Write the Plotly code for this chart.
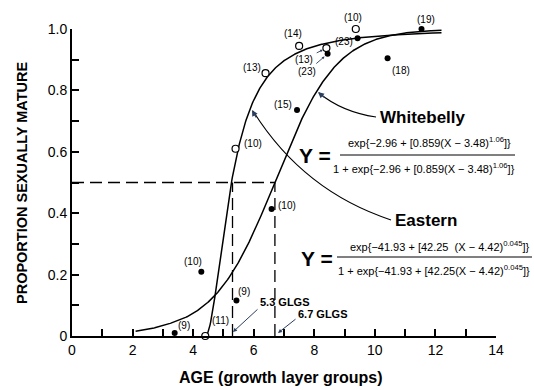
import numpy as np
import plotly.graph_objects as go

# Observed proportions mature by age (growth layer groups), with sample sizes
eastern_age = [4.4, 5.4, 6.39, 7.5, 8.4, 9.37]
eastern_prop = [0.0, 0.61, 0.856, 0.945, 0.938, 1.0]
eastern_n = [11, 10, 13, 14, 13, 10]

whitebelly_age = [3.39, 4.27, 5.43, 6.59, 7.43, 8.44, 9.43, 10.42, 11.54]
whitebelly_prop = [0.01, 0.209, 0.116, 0.414, 0.736, 0.919, 0.97, 0.905, 1.0]
whitebelly_n = [9, 10, 9, 10, 15, 23, 23, 18, 19]

# Fitted logistic parameters [a, b, c, d]:
# Y = exp(a + b(X - c)^d) / (1 + exp(a + b(X - c)^d))
eastern_params = [-41.93, 42.25, 4.42, 0.045]
whitebelly_params = [-2.96, 0.859, 3.48, 1.06]
eastern_span = [4.42, 12.2]
whitebelly_span = [2.1, 12.2]

# Age at 50% maturity (Eastern, Whitebelly)
age_at_half = [5.3, 6.7]

x_ticks = [0, 2, 4, 6, 8, 10, 12, 14]
y_ticks = [0, 0.2, 0.4, 0.6, 0.8, 1.0]
y_tick_text = ["0", "0.2", "0.4", "0.6", "0.8", "1.0"]

# label placement offsets (pixels: right, up); None -> leader arrow (ax, ay)
eastern_label_off = [(15, 16), (17, 5), (-14, 6), (-6, 12), None, (-3, 12)]
eastern_leader = {4: (-22, 11)}
whitebelly_label_off = [(9, 7), (-8, 10), (8, 9), (15, 3), (-14, 6), None,
                        (-14, -3), (13, -12), (4, 10)]
whitebelly_leader = {5: (-21, 18)}


def logistic(x, p):
    a, b, c, d = p
    dx = x - c
    z = a + b * np.sign(dx) * np.abs(dx) ** d
    return np.exp(z) / (1 + np.exp(z))


FONT = "Liberation Sans, Arial, sans-serif"
# plot-area pixel frame, used to place free-standing text and pointers
L, R, T, B = 72, 496, 29, 336


def px(p):
    return (p - L) / (R - L)


def py(p):
    return (B - p) / (B - T)


def note(xp, yp, text, font, **kw):
    opts = dict(xanchor="center", yanchor="middle")
    opts.update(kw)
    fig.add_annotation(xref="paper", yref="paper", x=px(xp), y=py(yp),
                       text=text, showarrow=False, font=font, **opts)


def pointer(tip, tail, size=0.8, width=1.0):
    fig.add_annotation(xref="paper", yref="paper", x=px(tip[0]), y=py(tip[1]),
                       text="", showarrow=True, ax=tail[0] - tip[0],
                       ay=tail[1] - tip[1], arrowhead=2, arrowsize=size,
                       arrowwidth=width)


fig = go.Figure()

xe = np.linspace(eastern_span[0], eastern_span[1], 400)
xw = np.linspace(whitebelly_span[0], whitebelly_span[1], 400)
fig.add_trace(go.Scatter(x=xe, y=logistic(xe, eastern_params), mode="lines",
                         line=dict(color="black", width=1.5), hoverinfo="skip"))
fig.add_trace(go.Scatter(x=xw, y=logistic(xw, whitebelly_params), mode="lines",
                         line=dict(color="black", width=1.5), hoverinfo="skip"))

fig.add_trace(go.Scatter(x=eastern_age, y=eastern_prop, mode="markers",
                         marker=dict(symbol="circle", size=7, color="white",
                                     line=dict(color="black", width=1.2)),
                         cliponaxis=False))
fig.add_trace(go.Scatter(x=whitebelly_age, y=whitebelly_prop, mode="markers",
                         marker=dict(symbol="circle", size=6, color="black"),
                         cliponaxis=False))

# dashed guides at 50% maturity
dash = dict(color="black", width=1.3, dash="12px,6px")
fig.add_shape(type="line", x0=0, x1=max(age_at_half), y0=0.5, y1=0.5, line=dash)
for a in age_at_half:
    fig.add_shape(type="line", x0=a, x1=a, y0=0, y1=0.5, line=dash)

label_font = dict(family=FONT, size=10, color="black")


def add_counts(ages, props, ns, offs, leaders):
    for i, (xa, ya, n) in enumerate(zip(ages, props, ns)):
        if offs[i] is None:
            ax, ay = leaders[i]
            fig.add_annotation(x=xa, y=ya, text=f"({n})", showarrow=True,
                               ax=ax, ay=ay, arrowhead=2, arrowsize=0.6,
                               arrowwidth=0.9, standoff=4, startstandoff=2,
                               font=label_font)
        else:
            dx, dy = offs[i]
            fig.add_annotation(x=xa, y=ya, text=f"({n})", showarrow=False,
                               xshift=dx, yshift=dy, xanchor="center",
                               yanchor="middle", font=label_font)


add_counts(eastern_age, eastern_prop, eastern_n, eastern_label_off, eastern_leader)
add_counts(whitebelly_age, whitebelly_prop, whitebelly_n, whitebelly_label_off,
           whitebelly_leader)

# GLGS notes with pointers to the axis
bold_small = dict(family=FONT, size=11, color="black", weight="bold")
note(285, 302, f"{age_at_half[0]} GLGS", bold_small)
note(323, 314, f"{age_at_half[1]} GLGS", bold_small)
pointer((233, 332), (259, 308))
pointer((278, 333), (297, 318))

# species names with curved pointers
name_font = dict(family=FONT, size=17, color="black", weight="bold")
note(378, 117, "Whitebelly", name_font, xanchor="left")
note(393, 220, "Eastern", name_font, xanchor="left")


def curve(p0, c, p1):
    return (f"M {px(p0[0])},{py(p0[1])} Q {px(c[0])},{py(c[1])} "
            f"{px(p1[0])},{py(p1[1])}")


fig.add_shape(type="path", xref="paper", yref="paper",
              path=curve((376, 117), (342, 112), (319, 93)),
              line=dict(color="black", width=1.1))
fig.add_shape(type="path", xref="paper", yref="paper",
              path=curve((391, 220), (303, 191), (253, 111)),
              line=dict(color="black", width=1.1))
pointer((318, 92), (326, 99), size=1.1, width=1.1)
pointer((252, 110), (257, 119), size=1.1, width=1.1)

# fitted equations
eq_font = dict(family=FONT, size=11, color="black")
y_font = dict(family=FONT, size=21, color="black", weight="bold")


def equation(p, ystar_xy, num_xy, den_xy, bar, gap=""):
    a, b, c, d = p
    core = (f"{{{a:.2f} + [{b:g}{gap}(X \u2212 {c:.2f})<sup>{d:g}</sup>]}}"
            .replace("{-", "{\u2212"))
    note(ystar_xy[0], ystar_xy[1], "Y =", y_font)
    note(num_xy[0], num_xy[1], "exp" + core, eq_font)
    note(den_xy[0], den_xy[1], "1 + exp" + core.replace(gap + "(", "("), eq_font)
    fig.add_shape(type="line", xref="paper", yref="paper",
                  x0=px(bar[0]), x1=px(bar[1]), y0=py(bar[2]), y1=py(bar[2]),
                  line=dict(color="black", width=1))


equation(whitebelly_params, (315, 155), (429, 142), (424, 168), (340, 515, 155))
equation(eastern_params, (317, 258), (440, 246), (434, 270), (337, 532, 257),
         gap="  ")

axis_common = dict(showline=True, linecolor="black", linewidth=2,
                   ticks="inside", ticklen=7, tickwidth=1.5, tickcolor="black",
                   showgrid=False, zeroline=False, mirror=False,
                   tickfont=dict(family=FONT, size=14, color="black"))
fig.update_xaxes(range=[0, 14], tickvals=x_ticks,
                 minor=dict(dtick=1, ticks="inside", ticklen=7, tickwidth=1.5,
                            tickcolor="black", showgrid=False),
                 **axis_common)
fig.update_yaxes(range=[0, 1.0], tickvals=y_ticks, ticktext=y_tick_text,
                 minor=dict(dtick=0.1, ticks="inside", ticklen=7, tickwidth=1.5,
                            tickcolor="black", showgrid=False),
                 **axis_common)

note(281, 377, "AGE (growth layer groups)",
     dict(family=FONT, size=16, color="black", weight="bold"))
note(22, 183, "PROPORTION SEXUALLY MATURE",
     dict(family=FONT, size=14.5, color="black", weight="bold"), textangle=-90)

fig.update_layout(width=534, height=390, showlegend=False,
                  margin=dict(l=L, r=534 - R, t=T, b=390 - B),
                  plot_bgcolor="white", paper_bgcolor="white")

fig.write_html("out.html")
